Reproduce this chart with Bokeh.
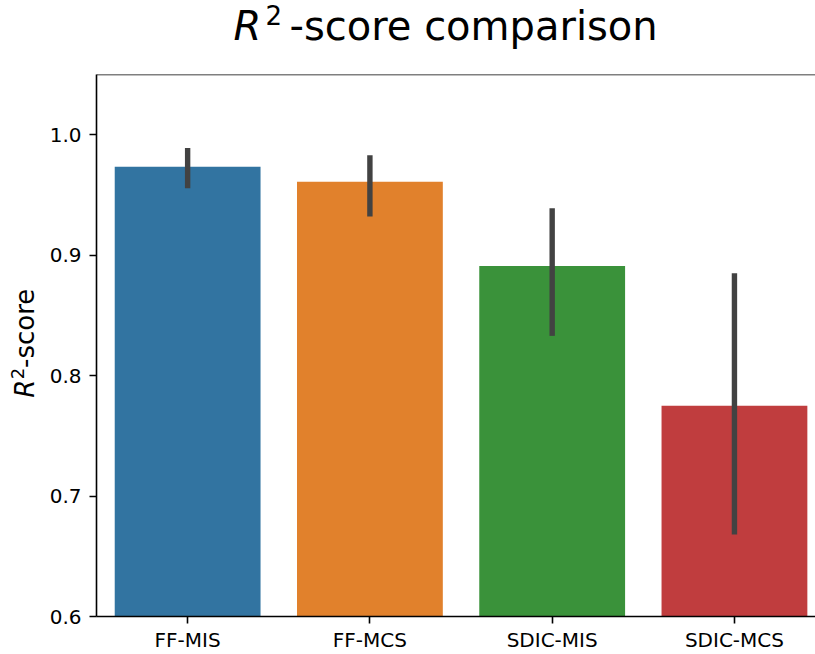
import math
from bokeh.plotting import figure
from bokeh.models import Range1d, FixedTicker, Span, ColumnDataSource
from bokeh.layouts import column, row
from bokeh.core.properties import value
from bokeh.embed import file_html
from bokeh.resources import INLINE

# ---- data ----
categories = ["FF-MIS", "FF-MCS", "SDIC-MIS", "SDIC-MCS"]
r2_mean = [0.9735, 0.961, 0.891, 0.775]
ci_low = [0.9555, 0.932, 0.833, 0.668]
ci_high = [0.989, 0.983, 0.939, 0.885]
colors = ["#3274a1", "#e1812c", "#3a923a", "#c03d3e"]
y_ticks = [0.6, 0.7, 0.8, 0.9, 1.0]
y_tick_labels = ["0.6", "0.7", "0.8", "0.9", "1.0"]

FONT = "DejaVu Sans"
xpos = list(range(len(categories)))


def blank_fig(w, h, yr):
    f = figure(width=w, height=h, output_backend="svg", toolbar_location=None,
               x_range=Range1d(0, w), y_range=yr, min_border=0,
               x_axis_type=None, y_axis_type=None)
    f.outline_line_color = None
    f.xgrid.visible = False
    f.ygrid.visible = False
    f.background_fill_color = "white"
    f.border_fill_color = "white"
    return f


def txt(f, x, y, s, size, style="normal", angle=0.0):
    f.text(x=[x], y=[y], text=[s], text_font=value(FONT), text_font_size=value(size),
           text_font_style=style, text_color="black", text_baseline="alphabetic",
           text_align="left", angle=angle)


# ---- title strip (pixel coordinates, y measured downward) ----
title_fig = blank_fig(815, 74, Range1d(74, 0))
txt(title_fig, 233, 25, "R", "40px", "italic")
txt(title_fig, 265, 14, "2", "26px")
txt(title_fig, 289, 25, "-score comparison", "40px")

# ---- y-label strip (pixel coordinates, y measured downward from page top) ----
ylab_fig = blank_fig(40, 580, Range1d(654, 74))
a = math.pi / 2
txt(ylab_fig, 24, 420, "R", "26px", "italic", a)
txt(ylab_fig, 16.5, 400, "2", "18px", "normal", a)
txt(ylab_fig, 24, 388, "-score", "26px", "normal", a)

# ---- main bar chart ----
src = ColumnDataSource(dict(x=xpos, top=r2_mean, lo=ci_low, hi=ci_high, color=colors))

p = figure(width=775, height=580, output_backend="svg", toolbar_location=None,
           x_range=Range1d(-0.5, 3.4447), y_range=Range1d(0.6, 1.05),
           min_border_left=56, min_border_top=0, min_border_right=0, min_border_bottom=37)
p.outline_line_color = None
p.xgrid.visible = False
p.ygrid.visible = False
p.background_fill_color = "white"
p.border_fill_color = "white"

p.vbar(x="x", top="top", bottom=0, width=0.8, fill_color="color", line_color=None, source=src)
p.segment(x0="x", y0="lo", x1="x", y1="hi", line_color="#424242", line_width=5.4,
          line_cap="butt", source=src)

# top spine
p.add_layout(Span(location=1.05, dimension="width", line_color="black", line_width=1.6))

for ax in (p.xaxis[0], p.yaxis[0]):
    ax.axis_line_width = 1.6
    ax.axis_line_color = "black"
    ax.major_tick_line_width = 1.6
    ax.major_tick_line_color = "black"
    ax.major_tick_in = 0
    ax.major_tick_out = 7
    ax.minor_tick_line_color = None
    ax.major_label_text_font = FONT
    ax.major_label_text_font_size = "20px"
    ax.major_label_text_color = "black"

p.xaxis.ticker = FixedTicker(ticks=xpos)
p.xaxis.major_label_overrides = {i: c for i, c in zip(xpos, categories)}
p.xaxis.major_label_standoff = 4
p.yaxis.ticker = FixedTicker(ticks=y_ticks)
p.yaxis.major_label_overrides = {t: l for t, l in zip(y_ticks, y_tick_labels)}
p.yaxis.major_label_standoff = 8

layout = column(title_fig, row(ylab_fig, p, spacing=0), spacing=0)

open("out.html", "w").write(file_html(layout, INLINE))
